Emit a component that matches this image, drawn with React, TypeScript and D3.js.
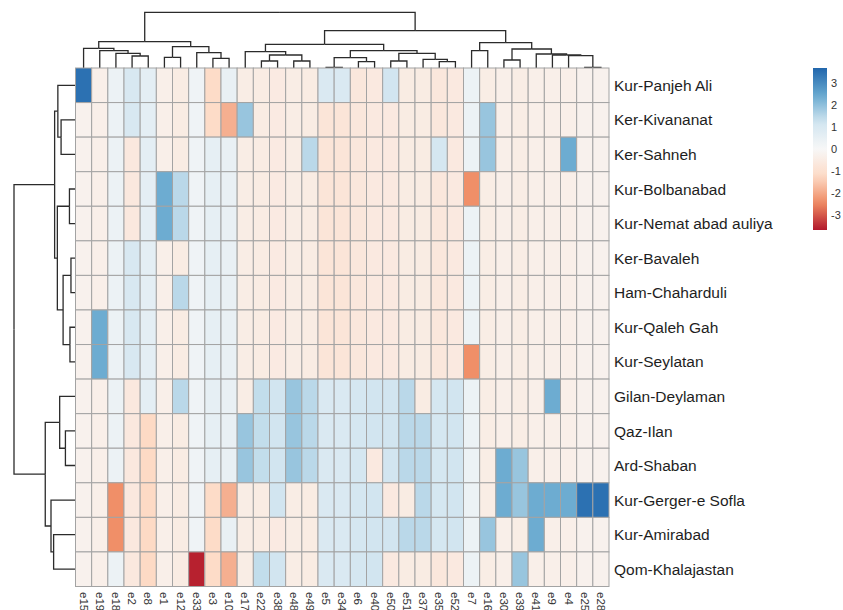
import * as d3 from 'd3'

const rowNames = [
  'Kur-Panjeh Ali',
  'Ker-Kivananat',
  'Ker-Sahneh',
  'Kur-Bolbanabad',
  'Kur-Nemat abad auliya',
  'Ker-Bavaleh',
  'Ham-Chaharduli',
  'Kur-Qaleh Gah',
  'Kur-Seylatan',
  'Gilan-Deylaman',
  'Qaz-Ilan',
  'Ard-Shaban',
  'Kur-Gerger-e Sofla',
  'Kur-Amirabad',
  'Qom-Khalajastan',
]

const colNames = [
  'e15', 'e19', 'e18', 'e2', 'e8', 'e1', 'e12', 'e33', 'e3', 'e10', 'e17',
  'e22', 'e38', 'e48', 'e49', 'e5', 'e34', 'e6', 'e40', 'e50', 'e51', 'e37',
  'e35', 'e52', 'e7', 'e16', 'e30', 'e39', 'e41', 'e9', 'e4', 'e25', 'e28',
]

// one row per site, columns in colNames order (scaled values)
const values = [
  [3.5, -0.35, 0.35, 1.0, 0.6, -0.35, -0.5, 0.25, -1.2, 0.45, -0.45, -0.5, -0.55, -0.45, -0.5, 0.95, 0.95, -0.7, -0.6, 1.2, -0.5, -0.5, -0.7, -0.6, 0.35, -0.45, -0.35, -0.45, -0.35, -0.35, -0.35, -0.25, -0.25],
  [-0.25, -0.35, 0.35, 1.0, 0.6, -0.35, -0.5, 0.25, -1.2, -1.9, 1.9, -0.5, -0.55, -0.45, -0.5, -0.8, -0.8, -0.7, -0.6, -0.6, -0.5, -0.5, -0.7, -0.6, 0.35, 1.9, -0.35, -0.45, -0.35, -0.35, -0.35, -0.25, -0.25],
  [-0.25, -0.35, 0.35, -0.65, 0.6, -0.35, -0.5, 0.25, 0.55, 0.45, -0.45, -0.5, -0.55, -0.45, 1.5, -0.8, -0.8, -0.7, -0.6, -0.6, -0.5, -0.5, 1.1, -0.6, 0.35, 1.9, -0.35, -0.45, -0.35, -0.35, 2.4, -0.25, -0.25],
  [-0.25, -0.35, 0.35, -0.65, 0.6, 2.4, 1.5, 0.25, 0.55, 0.45, -0.45, -0.5, -0.55, -0.45, -0.5, -0.8, -0.8, -0.7, -0.6, -0.6, -0.5, -0.5, -0.7, -0.6, -2.4, -0.45, -0.35, -0.45, -0.35, -0.35, -0.35, -0.25, -0.25],
  [-0.25, -0.35, 0.35, -0.65, 0.6, 2.4, 1.5, 0.25, 0.55, 0.45, -0.45, -0.5, -0.55, -0.45, -0.5, -0.8, -0.8, -0.7, -0.6, -0.6, -0.5, -0.5, -0.7, -0.6, 0.35, -0.45, -0.35, -0.45, -0.35, -0.35, -0.35, -0.25, -0.25],
  [-0.25, -0.35, 0.35, 1.0, 0.6, -0.35, -0.5, 0.25, 0.55, 0.45, -0.45, -0.5, -0.55, -0.45, -0.5, -0.8, -0.8, -0.7, -0.6, -0.6, -0.5, -0.5, -0.7, -0.6, 0.35, -0.45, -0.35, -0.45, -0.35, -0.35, -0.35, -0.25, -0.25],
  [-0.25, -0.35, 0.35, 1.0, 0.6, -0.35, 1.5, 0.25, 0.55, 0.45, -0.45, -0.5, -0.55, -0.45, -0.5, -0.8, -0.8, -0.7, -0.6, -0.6, -0.5, -0.5, -0.7, -0.6, 0.35, -0.45, -0.35, -0.45, -0.35, -0.35, -0.35, -0.25, -0.25],
  [-0.25, 2.4, 0.35, 1.0, 0.6, -0.35, -0.5, 0.25, 0.55, 0.45, -0.45, -0.5, -0.55, -0.45, -0.5, -0.8, -0.8, -0.7, -0.6, -0.6, -0.5, -0.5, -0.7, -0.6, 0.35, -0.45, -0.35, -0.45, -0.35, -0.35, -0.35, -0.25, -0.25],
  [-0.25, 2.4, 0.35, 1.0, 0.6, -0.35, -0.5, 0.25, 0.55, 0.45, -0.45, -0.5, -0.55, -0.45, -0.5, -0.8, -0.8, -0.7, -0.6, -0.6, -0.5, -0.5, -0.7, -0.6, -2.4, -0.45, -0.35, -0.45, -0.35, -0.35, -0.35, -0.25, -0.25],
  [-0.25, -0.35, 0.35, -0.65, 0.6, -0.35, 1.5, 0.25, 0.55, 0.45, -0.45, 1.4, 1.2, 1.9, 1.5, 0.95, 0.95, 1.1, 1.2, 1.2, 1.5, -0.5, 1.1, 1.2, 0.35, -0.45, -0.35, -0.45, -0.35, 2.4, -0.35, -0.25, -0.25],
  [-0.25, -0.35, 0.35, -0.65, -1.25, -0.35, -0.5, 0.25, 0.55, 0.45, 1.9, 1.4, 1.2, 1.9, 1.5, 0.95, 0.95, 1.1, 1.2, 1.2, 1.5, 1.5, 1.1, 1.2, 0.35, -0.45, -0.35, -0.45, -0.35, -0.35, -0.35, -0.25, -0.25],
  [-0.25, -0.35, 0.35, -0.65, -1.25, -0.35, -0.5, 0.25, 0.55, 0.45, 1.9, 1.4, 1.2, 1.9, 1.5, 0.95, 0.95, 1.1, -0.6, 1.2, 1.5, 1.5, 1.1, 1.2, 0.35, -0.45, 2.4, 1.9, -0.35, -0.35, -0.35, -0.25, -0.25],
  [-0.25, -0.35, -2.4, -0.65, -1.25, -0.35, -0.5, 0.25, -1.2, -1.9, -0.45, -0.5, 1.2, -0.45, -0.5, 0.95, 0.95, 1.1, 1.2, -0.6, -0.5, 1.5, 1.1, 1.2, 0.35, -0.45, 2.4, 1.9, 2.4, 2.4, 2.4, 3.5, 3.5],
  [-0.25, -0.35, -2.4, -0.65, -1.25, -0.35, -0.5, 0.25, -1.2, 0.45, -0.45, -0.5, -0.55, -0.45, -0.5, 0.95, 0.95, 1.1, 1.2, 1.2, 1.5, 1.5, 1.1, 1.2, 0.35, 1.9, -0.35, -0.45, 2.4, -0.35, -0.35, -0.25, -0.25],
  [-0.25, -0.35, 0.35, -0.65, -1.25, -0.35, -0.5, -3.6, -1.2, -1.9, -0.45, 1.4, 1.2, -0.45, -0.5, 0.95, 0.95, 1.1, 1.2, -0.6, -0.5, -0.5, -0.7, -0.6, 0.35, -0.45, -0.35, 1.9, -0.35, -0.35, -0.35, -0.25, -0.25],
]

const legendTicks = [3, 2, 1, 0, -1, -2, -3]
const colorStops = [-3.7, -2.47, -1.23, 0, 1.23, 2.47, 3.7]
const colorRange = ['#b2182b', '#ef8a62', '#fddbc7', '#f7f7f7', '#d1e5f0', '#67a9cf', '#2166ac']

// merge heights of the two clusterings
const m = (h, a, b) => ({
  h,
  children: [a, b].map(x => (typeof x === 'string' ? { name: x, h: 0 } : x)),
})

const colTree = m(55.7,
  m(26.3,
    m(19.7, 'e15', m(17.3, 'e19', m(14.7, 'e18', m(12, 'e2', 'e8')))),
    m(21.3, m(10.7, 'e1', 'e12'), m(15.3, 'e33', m(9.7, 'e3', 'e10')))),
  m(37.3,
    m(23.7,
      m(16.3, 'e17', m(13, m(7, 'e22', 'e38'), m(7, 'e48', 'e49'))),
      m(17.3,
        m(10.3, m(0.5, 'e5', 'e34'), m(6.3, 'e6', 'e40')),
        m(14.7, m(7, 'e50', 'e51'), m(8.7, 'e37', m(6.3, 'e35', 'e52'))))),
    m(25.3,
      m(17.3, 'e7', 'e16'),
      m(19, m(8, 'e30', 'e39'), m(14, 'e41', m(13, 'e9', m(12.3, 'e4', m(0.5, 'e25', 'e28'))))))))

const rowTree = m(61,
  m(20.7,
    m(17.5, 'Kur-Panjeh Ali', m(14.3, 'Ker-Kivananat', 'Ker-Sahneh')),
    m(18,
      m(6, 'Kur-Bolbanabad', 'Kur-Nemat abad auliya'),
      m(12.3, m(4.5, 'Ker-Bavaleh', 'Ham-Chaharduli'), m(5.5, 'Kur-Qaleh Gah', 'Kur-Seylatan')))),
  m(30,
    m(15.7, 'Gilan-Deylaman', m(10, 'Qaz-Ilan', 'Ard-Shaban')),
    m(24.3, 'Kur-Gerger-e Sofla', m(21.7, 'Kur-Amirabad', 'Qom-Khalajastan'))))

// elbow segments in (position, height) space
const elbows = (tree, pos) => {
  const root = d3.hierarchy(tree)
  root.eachAfter(n => {
    n.p = n.children ? d3.mean(n.children, c => c.p) : pos(n.data.name)
  })
  const segs = []
  root.each(n => {
    if (!n.children) return
    n.children.forEach(c => segs.push([[n.p, n.data.h], [c.p, n.data.h], [c.p, c.data.h]]))
  })
  return segs
}

export default function App() {
  const W = 843
  const H = 610
  const x = d3.scaleBand().domain(colNames).range([75.5, 609])
  const y = d3.scaleBand().domain(rowNames).range([68, 586.5])
  const color = d3.scaleLinear().domain(colorStops).range(colorRange).clamp(true)

  const colH = d3.scaleLinear().domain([0, 55.7]).range([68, 12.3])
  const rowH = d3.scaleLinear().domain([0, 61]).range([75.5, 14])

  const colSegs = elbows(colTree, n => x(n) + x.bandwidth() / 2)
  const rowSegs = elbows(rowTree, n => y(n) + y.bandwidth() / 2)

  const colLine = d3.line().x(d => d[0]).y(d => colH(d[1]))
  const rowLine = d3.line().x(d => rowH(d[1])).y(d => d[0])

  const legendY = d3.scaleLinear().domain([-3.7, 3.7]).range([230, 68])
  const gradStops = d3.range(0, 1.0001, 0.05)

  const font = '"Liberation Sans", Arial, Helvetica, sans-serif'

  return (
    <svg
      width={W}
      height={H}
      style={{ position: 'absolute', left: 0, top: 0, background: 'white' }}
      fontFamily={font}
    >
      <defs>
        <linearGradient id="legendGrad" x1="0" y1="1" x2="0" y2="0">
          {gradStops.map(t => (
            <stop key={t} offset={t} stopColor={color(-3.7 + 7.4 * t)} />
          ))}
        </linearGradient>
      </defs>

      <g fill="none" stroke="#2b2b2b" strokeWidth="1.3">
        {colSegs.map((s, i) => (
          <path key={i} d={colLine(s)} />
        ))}
        {rowSegs.map((s, i) => (
          <path key={i} d={rowLine(s)} />
        ))}
      </g>

      <g stroke="#a3a3a3" strokeWidth="1">
        {values.map((row, ri) =>
          row.map((v, ci) => (
            <rect
              key={`${ri}-${ci}`}
              x={x(colNames[ci])}
              y={y(rowNames[ri])}
              width={x.bandwidth()}
              height={y.bandwidth()}
              fill={color(v)}
            />
          ))
        )}
      </g>

      {rowNames.map(r => (
        <text
          key={r}
          x={614}
          y={y(r) + y.bandwidth() / 2}
          dy="0.36em"
          fontSize="15.5"
          fill="#1e1e1e"
        >
          {r}
        </text>
      ))}

      {colNames.map(c => (
        <text
          key={c}
          transform={`translate(${x(c) + x.bandwidth() / 2}, 592) rotate(90)`}
          dy="0.35em"
          fontSize="11.5"
          fill="#333"
        >
          {c}
        </text>
      ))}

      <rect x={813} y={68} width={14} height={162} fill="url(#legendGrad)" />
      {legendTicks.map(t => (
        <text key={t} x={831} y={legendY(t)} dy="0.35em" fontSize="11" fill="#333">
          {t}
        </text>
      ))}
    </svg>
  )
}
